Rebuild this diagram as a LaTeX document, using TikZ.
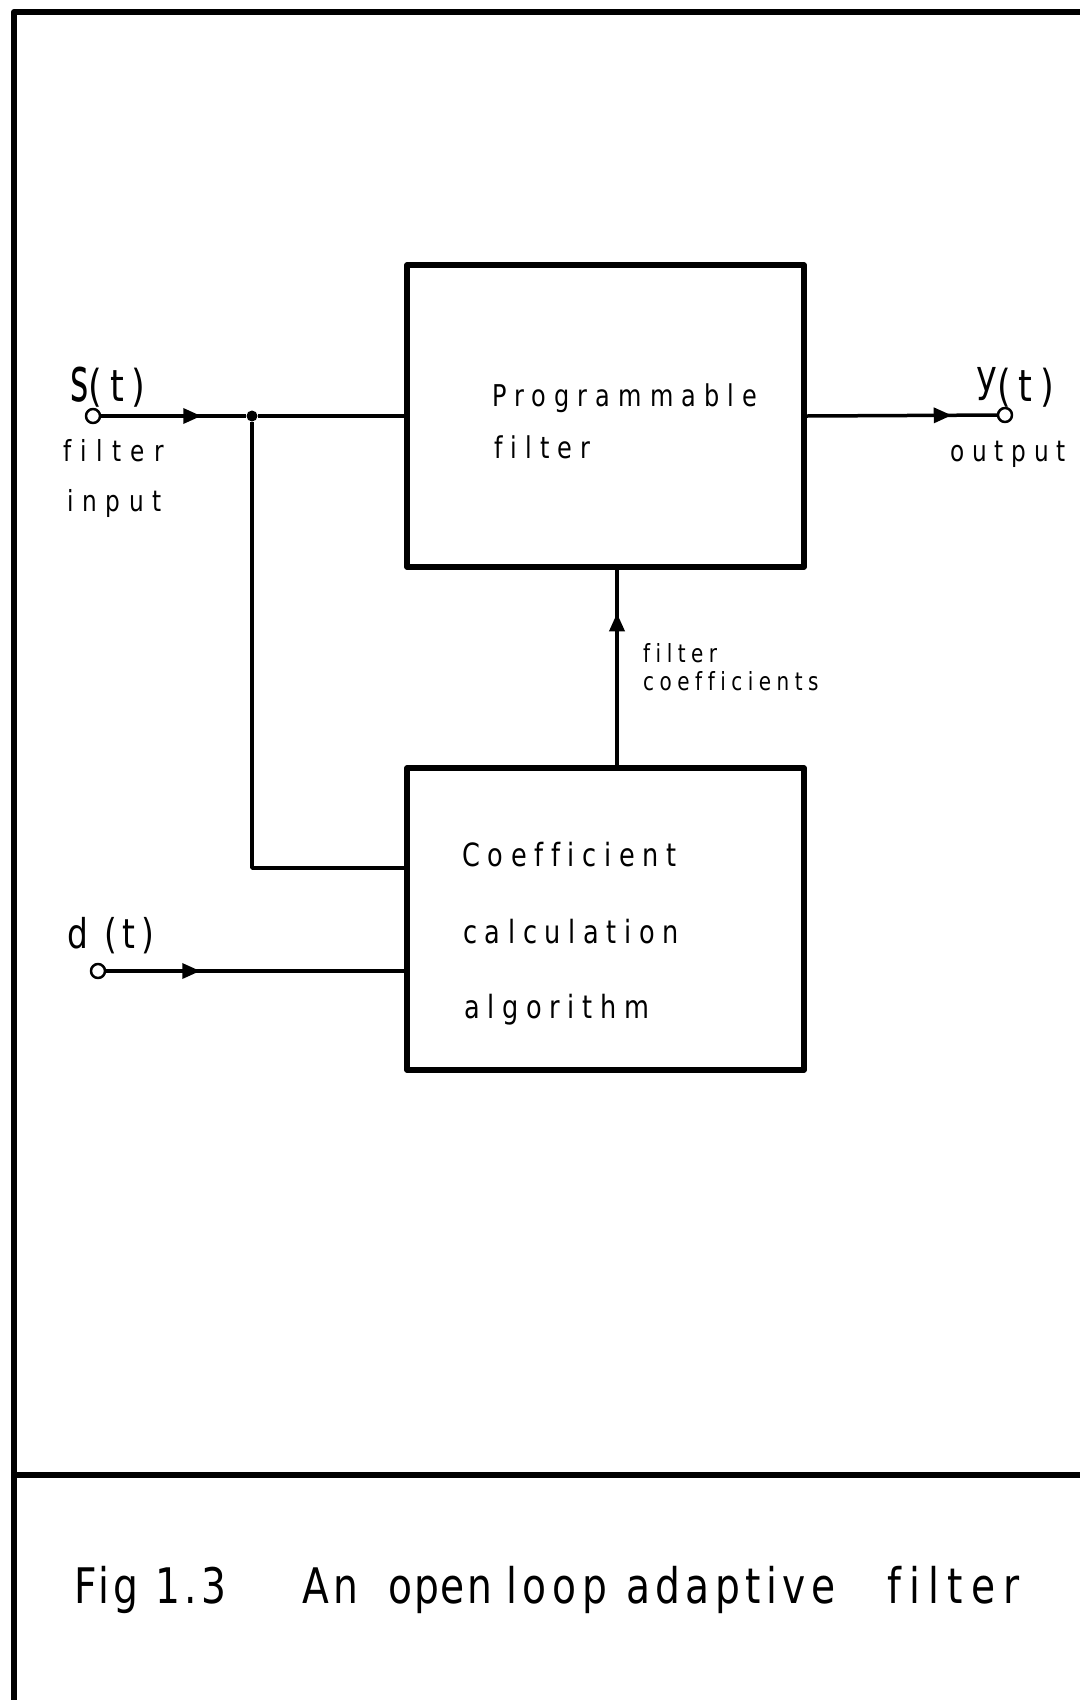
\documentclass[tikz,border=0pt]{standalone}
\usepackage{fontspec}
\usepackage{graphicx}
\usetikzlibrary{arrows.meta,decorations.markings,calc}
\newfontfamily\plotfam[FakeStretch=0.8, Ligatures=NoCommon]{DejaVu Sans}
% lettering: size (pt) and extra letter spacing
\newcommand\plotset[2]{\fontsize{#1}{#1}\plotfam\addfontfeatures{LetterSpace=#2}}
\tikzset{
  box/.style={draw, line width=5.5pt, minimum width=397pt, minimum height=302pt, inner sep=0pt},
  wire/.style={line width=3.5pt},
  port/.style={circle, draw, line width=2.5pt, fill=white, minimum size=14pt, inner sep=0pt},
  joint/.style={circle, fill, minimum size=11pt, inner sep=0pt},
  txt/.style={anchor=base west, inner sep=0pt},
  midarrow/.style={postaction={decorate}, decoration={markings,
      mark=at position #1 with {\arrow{Triangle[length=18pt,width=15pt]}}}},
}
\begin{document}
\begin{tikzpicture}[x=1pt, y=-1pt, line join=round]
\useasboundingbox (0,0) rectangle (1080,1700);

% page frame and caption rule
\draw[line width=6pt] (14,1700) -- (14,12) -- (1080,12);
\draw[line width=6pt] (14,1475) -- (1080,1475);

% blocks
\node[box] (P) at (605.5,416) {};
\node[box] (C) at (605.5,919) {};

\node[txt, font=\plotset{30}{27}] (pt1) at (492,406) {Programmable};
\node[txt, font=\plotset{30}{27}] (pt2) at (494,458) {filter};

\node[txt, font=\plotset{32}{24}] (ct1) at (462,866) {Coefficient};
\node[txt, font=\plotset{32}{24}] (ct2) at (463,943) {calculation};
\node[txt, font=\plotset{32}{24}] (ct3) at (464,1018) {algorithm};

% terminals
\node[port] (sIn) at (93,416) {};
\node[port] (dIn) at (98,971) {};
\node[port] (yOut) at (1005,415) {};
\node[joint] (J) at (252,416) {};

\coordinate (cA) at (407,868);
\coordinate (cB) at (407,971);
\coordinate (vx) at (617,0);

% connectors
\draw[wire, midarrow=100pt] (sIn) -- (J);
\draw[wire] (J) -- (P.west);
\draw[wire] (J) |- (cA);
\draw[wire, midarrow=94pt] (dIn) -- (cB);
\draw[wire, midarrow=152pt] (C.north -| vx) -- (P.south -| vx);
\draw[wire, midarrow=145pt] (P.east) -- (yOut);

% signal labels
\node[txt, font=\plotset{44}{18}] (sLab) at (70,401) {\scalebox{1}[1.4]{s}(t)};
\node[txt, font=\plotset{29}{32}] (sL1) at (63,461) {filter};
\node[txt, font=\plotset{29}{30}] (sL2) at (67,511) {input};

\node[txt, font=\plotset{44}{18}] (yLab) at (976,401) {\raisebox{10pt}{y}(t)};
\node[txt, font=\plotset{29}{27}] (yL1) at (950,461) {output};

\node[txt, font=\plotset{41}{14}] (dLab) at (67,948) {d (t)};

\node[txt, font=\plotset{25}{22}] (fc1) at (643,662) {filter};
\node[txt, font=\plotset{25}{22}] (fc2) at (643,690) {coefficients};

% caption
\node[txt, font=\plotset{49}{9}] (cap1) at (74,1603) {Fig 1.3};
\node[txt, font=\plotset{49}{9}] (cap2) at (302,1603) {An};
\node[txt, font=\plotset{49}{4}] (cap3) at (388,1603) {open};
\node[txt, font=\plotset{49}{12}] (cap4) at (506,1603) {loop};
\node[txt, font=\plotset{49}{11}] (cap5) at (626,1603) {adaptive};
\node[txt, font=\plotset{49}{17}] (cap6) at (887,1603) {filter};
\end{tikzpicture}
\end{document}
